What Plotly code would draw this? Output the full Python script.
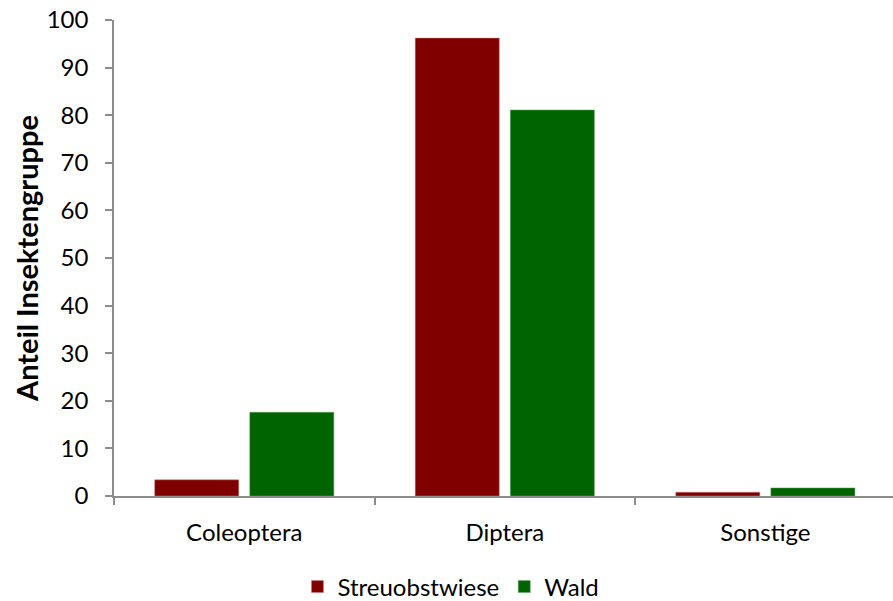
import plotly.graph_objects as go

categories = ["Coleoptera", "Diptera", "Sonstige"]
streuobstwiese = [3.4, 96.2, 0.8]
wald = [17.6, 81.1, 1.7]
y_ticks = [0, 10, 20, 30, 40, 50, 60, 70, 80, 90, 100]

font_family = "Lato, Open Sans, sans-serif"

fig = go.Figure()
fig.add_trace(go.Bar(name="Streuobstwiese", x=categories, y=streuobstwiese,
                     marker=dict(color="#800000", line=dict(color="#c98080", width=0.5))))
fig.add_trace(go.Bar(name="Wald", x=categories, y=wald,
                     marker=dict(color="#006400", line=dict(color="#66a366", width=0.5))))

fig.update_layout(
    width=893, height=601,
    margin=dict(l=114, r=0, t=20, b=105, autoexpand=False),
    paper_bgcolor="white", plot_bgcolor="white",
    barmode="group", bargap=0.27, bargroupgap=0.116,
    font=dict(family=font_family, size=24, color="#000000"),
    legend=dict(orientation="h", xref="container", yref="container",
                x=0.505, xanchor="center", y=0.0233, yanchor="middle",
                font=dict(size=24), itemwidth=30, traceorder="normal"),
    xaxis=dict(range=[-0.5, 2.49], showline=True, linecolor="#8c8c8c", linewidth=1.5,
               automargin=False, ticks="outside", tickson="boundaries", ticklen=7,
               tickcolor="#8c8c8c", tickwidth=1.5, tickfont=dict(size=24), showgrid=False,
               ticklabelstandoff=14),
    yaxis=dict(range=[0, 100], tickvals=y_ticks, showline=True, linecolor="#8c8c8c",
               linewidth=1.5, ticks="outside", ticklen=7, tickcolor="#8c8c8c", tickwidth=1.5,
               tickfont=dict(size=24), showgrid=False, zeroline=False, automargin=False,
               ticklabelstandoff=12,
               title=dict(text="<b>Anteil Insektengruppe</b>", font=dict(size=29), standoff=0)),
)

fig.write_html("out.html", config={"displayModeBar": False},
               post_script="document.body.style.margin='0';")
